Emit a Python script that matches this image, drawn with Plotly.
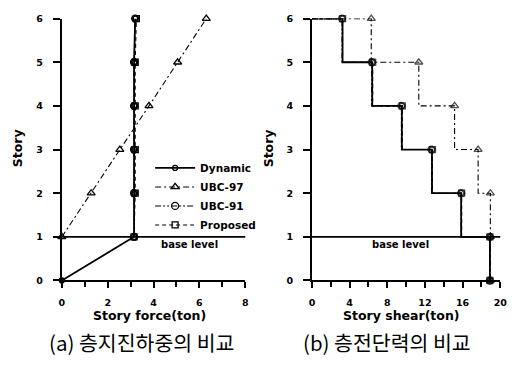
import plotly.graph_objects as go

# ---- data ----
stories = [0, 1, 2, 3, 4, 5, 6]
upper_stories = [1, 2, 3, 4, 5, 6]

dynamic_force = [0, 3.15, 3.15, 3.15, 3.15, 3.15, 3.2]
ubc97_force = [0, 1.28, 2.53, 3.8, 5.05, 6.3]
ubc91_force = [3.15, 3.15, 3.15, 3.15, 3.15, 3.2]
proposed_force = [3.15, 3.2, 3.2, 3.2, 3.2, 3.25]

shear_stories = [6, 5, 4, 3, 2, 1, 0]
dynamic_shear = [3.25, 6.4, 9.55, 12.75, 15.85, 18.9, 18.9]
ubc97_shear = [6.3, 11.35, 15.15, 17.65, 18.95, 18.95, 18.95]
ubc91_shear = [3.2, 6.35, 9.5, 12.7, 15.85, 18.9, 18.9]
proposed_shear = [3.25, 6.45, 9.6, 12.8, 15.9, 18.9, 18.9]

base_level = 1
series_names = ["Dynamic", "UBC-97", "UBC-91", "Proposed"]

# ---- styles ----
styles = {
    "Dynamic": dict(dash="solid", width=1.8, symbol="circle-open", size=5),
    "UBC-97": dict(dash="6px,3px,2px,3px", width=1.1, symbol="triangle-up-open", size=7),
    "UBC-91": dict(dash="6px,2px,2px,2px,2px,2px", width=1.1, symbol="circle-open", size=7),
    "Proposed": dict(dash="4px,3px", width=1.1, symbol="square-open", size=6),
}

FONT = "DejaVu Sans, sans-serif"
fig = go.Figure()

force_data = {
    "Dynamic": (dynamic_force, stories),
    "UBC-97": (ubc97_force, upper_stories),
    "UBC-91": (ubc91_force, upper_stories),
    "Proposed": (proposed_force, upper_stories),
}
for name in series_names:
    xs, ys = force_data[name]
    s = styles[name]
    fig.add_trace(go.Scatter(
        x=xs, y=ys, mode="lines+markers", name=name, xaxis="x", yaxis="y",
        line=dict(color="black", width=s["width"], dash=s["dash"]),
        marker=dict(symbol=s["symbol"], size=s["size"], color="black",
                    line=dict(color="black", width=1.3)),
        cliponaxis=False,
    ))

shear_data = {
    "Dynamic": dynamic_shear,
    "UBC-97": ubc97_shear,
    "UBC-91": ubc91_shear,
    "Proposed": proposed_shear,
}
for name in series_names:
    vals = shear_data[name]
    s = styles[name]
    fig.add_trace(go.Scatter(
        x=[0] + vals, y=[shear_stories[0]] + shear_stories,
        mode="lines+markers", name=name, showlegend=False,
        xaxis="x2", yaxis="y2", line_shape="vh",
        line=dict(color="black", width=s["width"], dash=s["dash"]),
        marker=dict(symbol=s["symbol"], size=[0] + [s["size"]] * len(vals),
                    color="black", line=dict(color="black", width=1.3)),
        cliponaxis=False,
    ))

tickfont = dict(family=FONT, size=9.5, color="black", weight="bold")
common_axis = dict(showgrid=False, zeroline=False, showline=True, linecolor="black",
                   linewidth=2, ticks="outside", tickcolor="black", tickwidth=1.5,
                   tickfont=tickfont)

fig.update_layout(
    width=520, height=366,
    margin=dict(l=0, r=0, t=0, b=0),
    paper_bgcolor="white", plot_bgcolor="white",
    showlegend=True,
    legend=dict(x=150/520, y=1-152/366, xanchor="left", yanchor="top",
                bgcolor="rgba(0,0,0,0)", itemwidth=40,
                font=dict(family=FONT, size=10.5, color="black", weight="bold")),
    xaxis=dict(common_axis, domain=[60/520, 247/520], range=[0, 8], dtick=2,
               ticklen=6, ticklabelstandoff=6,
               minor=dict(dtick=1, ticks="outside", ticklen=5,
                          tickcolor="black", tickwidth=1.5),
               anchor="y"),
    yaxis=dict(common_axis, domain=[1-283/366, 1-13/366], range=[0, 6], dtick=1,
               ticklen=7, ticklabelstandoff=8, anchor="x"),
    xaxis2=dict(common_axis, domain=[315/520, 507/520], range=[0, 20], dtick=4,
                ticklen=6, ticklabelstandoff=6,
                minor=dict(dtick=2, ticks="outside", ticklen=5,
                           tickcolor="black", tickwidth=1.5),
                anchor="y2"),
    yaxis2=dict(common_axis, domain=[1-283/366, 1-13/366], range=[0, 6], dtick=1,
                ticklen=7, ticklabelstandoff=8, anchor="x2"),
)

# base level lines
for xr, yr in (("x domain", "y"), ("x2 domain", "y2")):
    fig.add_shape(type="line", xref=xr, yref=yr, x0=0, x1=1, y0=base_level,
                  y1=base_level, line=dict(color="black", width=1.8))

title_font = dict(family=FONT, size=12.5, color="black", weight="bold")
small_bold = dict(family=FONT, size=10, weight="bold", color="black")
ann = [
    dict(text="base level", x=190/520, y=1-246/366, font=small_bold),
    dict(text="base level", x=405/520, y=1-246/366, font=small_bold),
    dict(text="Story force(ton)", x=149/520, y=1-319/366, font=title_font),
    dict(text="Story shear(ton)", x=406/520, y=1-319/366, font=title_font),
    dict(text="Story", x=15/520, y=1-147/366, font=title_font, textangle=-90),
    dict(text="Story", x=271/520, y=1-147/366, font=title_font, textangle=-90),
    dict(text="(a) 층지진하중의 비교", x=141/520, y=1-346/366,
         font=dict(family="Noto Sans CJK KR", size=20.5, color="black")),
    dict(text="(b) 층전단력의 비교", x=392/520, y=1-346/366,
         font=dict(family="Noto Sans CJK KR", size=20.5, color="black")),
]
for a in ann:
    fig.add_annotation(xref="paper", yref="paper", showarrow=False,
                       xanchor="center", yanchor="middle", **a)

fig.write_html("out.html", config={"displayModeBar": False},
               post_script="document.body.style.margin='0';")
